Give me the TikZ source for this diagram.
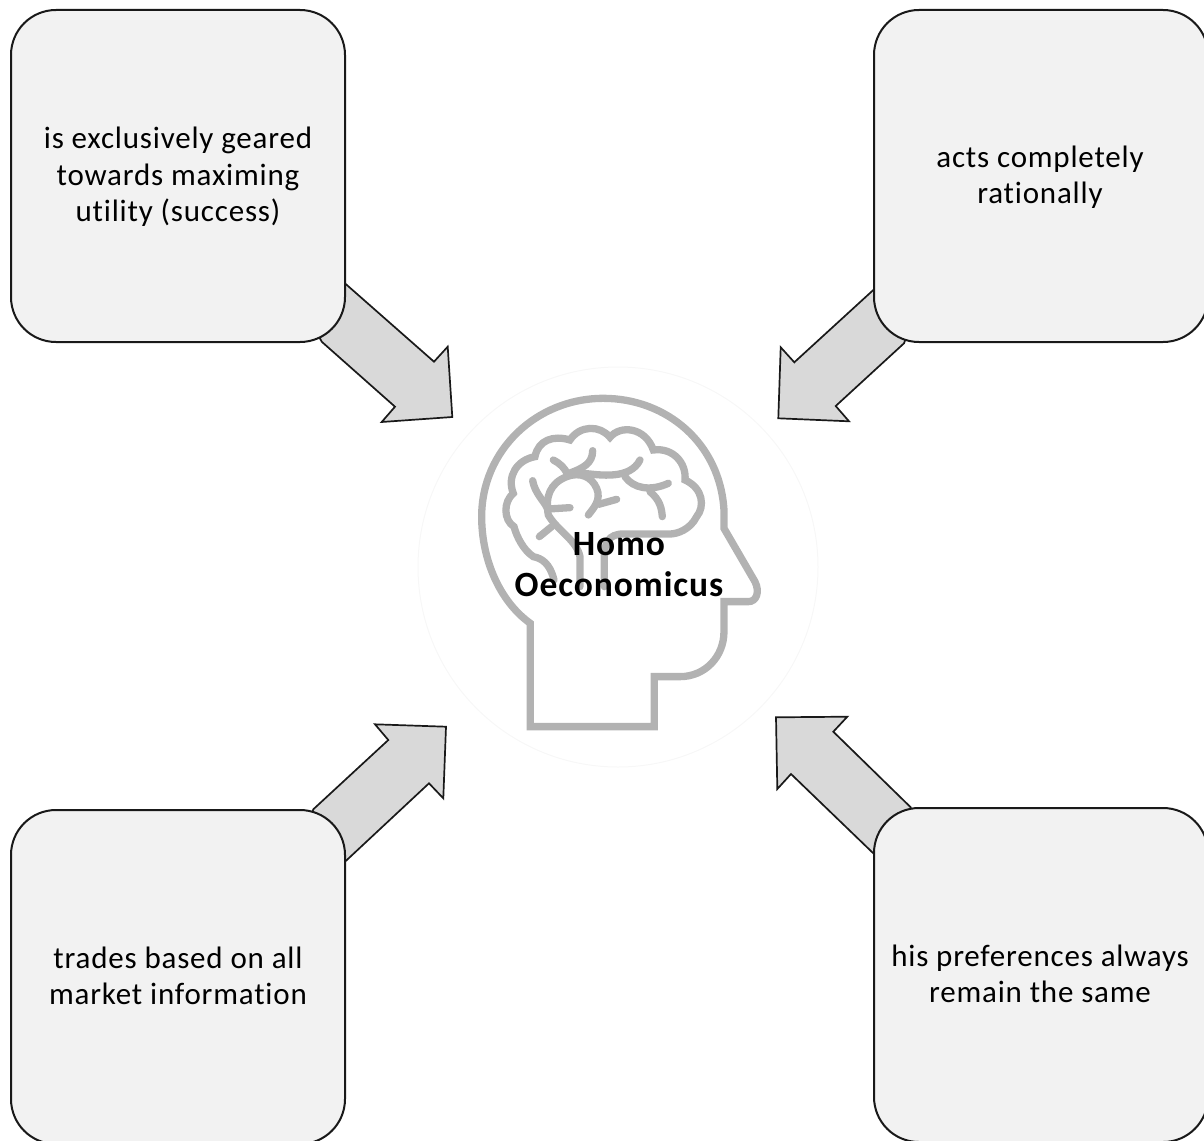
\documentclass[tikz,border=0pt]{standalone}
\usepackage{fontspec}
\setmainfont[Ligatures=NoCommon,LetterSpace=2.6]{Carlito}
\tikzset{
  card/.style={draw=black!90,line width=2pt,fill=black!5,rounded corners=45pt},
  blockarrow/.style={draw=black!90,line width=1.7pt,fill=black!15,line join=miter},
  cardtext/.style={align=center,font=\fontsize{31}{36.3}\selectfont,text=black},
  headline/.style={draw=black!30,line width=7.3pt,line cap=round,line join=miter},
  titletext/.style={align=center,font=\fontsize{35.5}{41}\selectfont\bfseries,text=black},
}
\begin{document}
\begin{tikzpicture}[x=1pt,y=-1pt]
\useasboundingbox (0,0) rectangle (1204,1140);
\begin{scope}
\clip (0,0) rectangle (1204,1140);
% block arrows
\draw[blockarrow] (345.7,284) -- (434,361.7) -- (447.7,346.7) -- (452.3,417) -- (381.7,422) -- (395,406.7) -- (321.7,341.7) -- (300,300) -- cycle;
\draw[blockarrow] (873.3,290) -- (794.3,362.3) -- (780.7,347.3) -- (778.3,418.3) -- (849,421.3) -- (835.7,406) -- (904,343.3) -- (920,300) -- cycle;
\draw[blockarrow] (313.3,809.3) -- (388.3,740) -- (375,724.3) -- (446,726.7) -- (443.3,798.3) -- (429,783.3) -- (345,861.7) -- (300,850) -- cycle;
\draw[blockarrow] (910.7,807.3) -- (833.3,731.7) -- (847.3,716.7) -- (776,717.3) -- (777.3,789) -- (791,774) -- (873.3,853.3) -- (920,850) -- cycle;
% cards
\draw[card] (11,10) rectangle (345,342);
\draw[card] (874,10) rectangle (1208,342);
\draw[card] (11,810) rectangle (345,1144);
\draw[card] (874,808) rectangle (1208,1142);
% faint circle
\draw[draw=black!3,line width=1pt] (618,567) circle (200);
% head and brain, given in a local frame
\begin{scope}[shift={(410,360)},x=0.3333pt,y=-0.3333pt]
\draw[headline] (361,1100) -- (733,1100) -- (733,950) -- (810,950)
  .. controls (885,950) and (942,890) .. (942,815) -- (942,725) -- (1015,725)
  .. controls (1040,725) and (1050,695) .. (1035,665) -- (942,505) -- (942,450)
  .. controls (930,250) and (770,115) .. (580,115)
  .. controls (380,115) and (215,270) .. (215,470)
  .. controls (215,600) and (270,725) .. (361,790) -- cycle;
\draw[headline] (432,660) .. controls (420,610) and (395,595) .. (370,590)
  .. controls (340,570) and (320,530) .. (312,500)
  .. controls (280,480) and (280,425) .. (310,400)
  .. controls (290,350) and (320,300) .. (375,290)
  .. controls (385,240) and (430,225) .. (480,240)
  .. controls (510,195) and (570,195) .. (600,232)
  .. controls (630,195) and (705,200) .. (730,270)
  .. controls (790,262) and (830,310) .. (825,360)
  .. controls (880,385) and (885,440) .. (860,470)
  .. controls (840,510) and (800,522) .. (780,522) -- (640,522)
  .. controls (595,522) and (583,550) .. (583,590) -- (583,680);
\draw[headline] (510,680) -- (510,590) .. controls (500,540) and (440,510) .. (415,465)
  .. controls (405,410) and (420,370) .. (470,350)
  .. controls (510,335) and (545,350) .. (560,385)
  .. controls (575,420) and (550,445) .. (535,465);
\draw[headline] (368,362) .. controls (375,400) and (400,420) .. (412,445);
\draw[headline] (415,447) -- (480,443);
\draw[headline] (388,530) -- (425,500);
\draw[headline] (430,300) .. controls (450,310) and (465,325) .. (472,342);
\draw[headline] (548,272) .. controls (548,310) and (520,325) .. (472,342);
\draw[headline] (520,340) .. controls (570,345) and (660,360) .. (690,300);
\draw[headline] (645,350) .. controls (670,385) and (720,395) .. (775,370);
\draw[headline] (720,395) .. controls (750,420) and (755,445) .. (757,470);
\draw[headline] (566,433) -- (620,418);
\end{scope}
\end{scope}
% texts
\node[cardtext] (tl) at (178,177) {is exclusively geared\\towards maximing\\utility (success)};
\node[cardtext] (tr) at (1040,177.5) {acts completely\\rationally};
\node[cardtext] (bl) at (178,976) {trades based on all\\market information};
\node[cardtext] (br) at (1040,974) {his preferences always\\remain the same};
\node[titletext] (hom) at (619,564.5) {Homo\\Oeconomicus};
\end{tikzpicture}
\end{document}
